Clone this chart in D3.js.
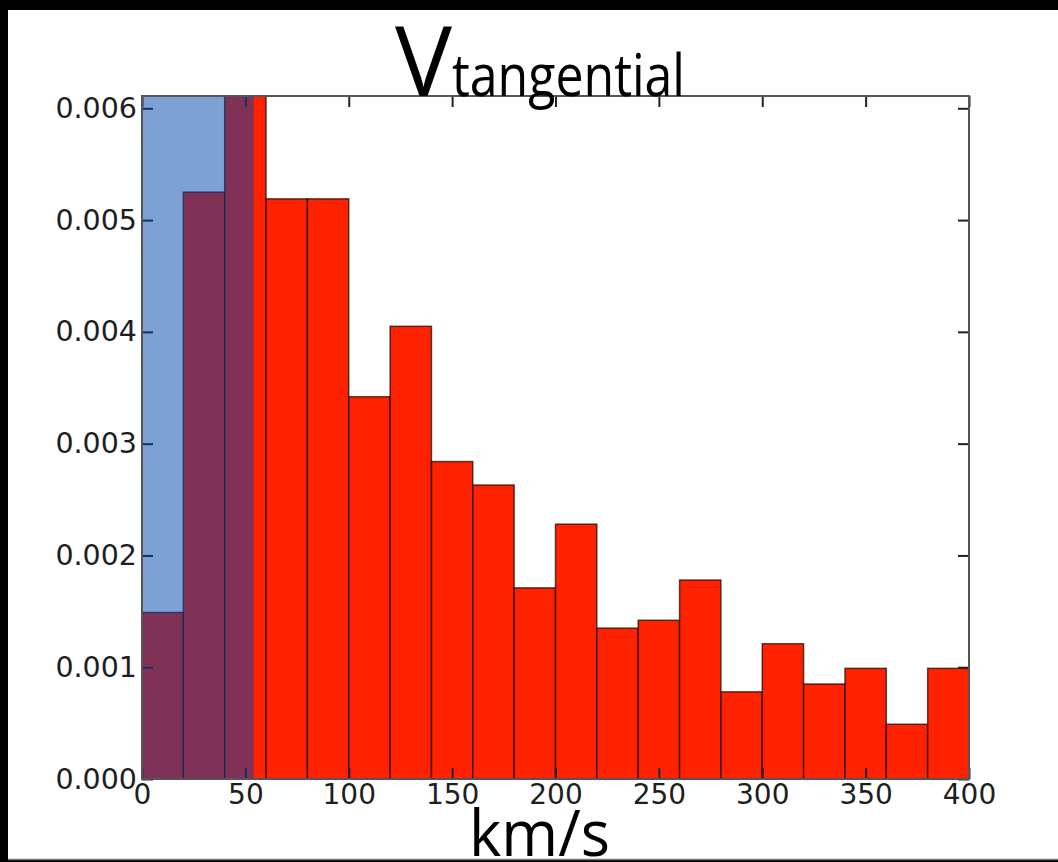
<!DOCTYPE html>
<html>
<head>
<meta charset="utf-8">
<script src="https://cdn.jsdelivr.net/npm/d3@7"></script>
<style>
  html, body { margin: 0; padding: 0; background: #000; }
  svg { display: block; }
</style>
</head>
<body>
<svg id="chart" width="1058" height="862"></svg>
<script>
// Tangential velocity histogram (probability density per km/s)
const redBinEdges = [0, 20, 40, 60, 80, 100, 120, 140, 160, 180, 200, 220, 240, 260, 280, 300, 320, 340, 360, 380, 400];
const redDensity = [0.00149, 0.00525, 0.0066, 0.00519, 0.00519, 0.00342, 0.00405, 0.00284, 0.00263, 0.00171,
                    0.00228, 0.00135, 0.00142, 0.00178, 0.00078, 0.00121, 0.00085, 0.00099, 0.00049, 0.00099];
const blueBinEdges = [0, 54];
const blueDensity = [0.0185];
const xTicks = [0, 50, 100, 150, 200, 250, 300, 350, 400];
const yTicks = [0, 0.001, 0.002, 0.003, 0.004, 0.005, 0.006];

const svg = d3.select("#chart");

// white page area inside the dark border
svg.append("rect").attr("x", 8).attr("y", 10).attr("width", 1050).attr("height", 849).attr("fill", "#fff");
svg.append("line").attr("x1", 8).attr("x2", 1058).attr("y1", 859.5).attr("y2", 859.5)
  .attr("stroke", "#777").attr("stroke-width", 1.5);

const plot = { left: 142, right: 969, top: 96, bottom: 779 };
const x = d3.scaleLinear().domain([0, 400]).range([plot.left, plot.right]);
const y = d3.scaleLinear().domain([0, 0.00611]).range([plot.bottom, plot.top]);

const defs = svg.append("defs");
defs.append("clipPath").attr("id", "plotClip")
  .append("rect").attr("x", plot.left).attr("y", plot.top)
  .attr("width", plot.right - plot.left).attr("height", plot.bottom - plot.top);

// red histogram
const redBins = redDensity.map((v, i) => ({ x0: redBinEdges[i], x1: redBinEdges[i + 1], v }));
svg.append("g").attr("clip-path", "url(#plotClip)")
  .selectAll("rect").data(redBins).join("rect")
  .attr("x", d => x(d.x0))
  .attr("y", d => y(d.v))
  .attr("width", d => x(d.x1) - x(d.x0))
  .attr("height", d => y(0) - y(d.v))
  .attr("fill", "#ff2200")
  .attr("stroke", "#000")
  .attr("stroke-opacity", 0.65)
  .attr("stroke-width", 1.5);

// axes with inward ticks
const tickFont = "'DejaVu Sans', sans-serif";
function styleAxis(g) {
  g.select(".domain").remove();
  g.selectAll(".tick line").attr("stroke", "#222").attr("stroke-width", 2);
  g.selectAll(".tick text").attr("fill", "#1e1e1e").style("font-family", tickFont);
}

svg.append("g").attr("transform", `translate(${plot.left},0)`)
  .call(d3.axisLeft(y).tickValues(yTicks).tickFormat(d3.format(".3f")).tickSizeInner(-11).tickSizeOuter(0).tickPadding(5))
  .call(styleAxis)
  .call(g => g.selectAll(".tick text").style("font-size", "28.5px"));

svg.append("g").attr("transform", `translate(${plot.right},0)`)
  .call(d3.axisRight(y).tickValues(yTicks).tickFormat("").tickSizeInner(-11).tickSizeOuter(0))
  .call(styleAxis);

svg.append("g").attr("transform", `translate(0,${plot.bottom})`)
  .call(d3.axisBottom(x).tickValues(xTicks).tickFormat(d3.format("d")).tickSizeInner(-11).tickSizeOuter(0).tickPadding(5))
  .call(styleAxis)
  .call(g => g.selectAll(".tick text").style("font-size", "28px"));

svg.append("g").attr("transform", `translate(0,${plot.top})`)
  .call(d3.axisTop(x).tickValues(xTicks).tickFormat("").tickSizeInner(-11).tickSizeOuter(0))
  .call(styleAxis);

// translucent blue histogram laid over the red one
const blueBins = blueDensity.map((v, i) => ({ x0: blueBinEdges[i], x1: blueBinEdges[i + 1], v }));
svg.append("g").attr("clip-path", "url(#plotClip)")
  .selectAll("rect").data(blueBins).join("rect")
  .attr("x", d => x(d.x0))
  .attr("y", d => y(d.v))
  .attr("width", d => x(d.x1) - x(d.x0))
  .attr("height", d => y(0) - y(d.v))
  .attr("fill", "#0041ab")
  .attr("fill-opacity", 0.5);

// frame
svg.append("rect")
  .attr("x", plot.left).attr("y", plot.top)
  .attr("width", plot.right - plot.left).attr("height", plot.bottom - plot.top)
  .attr("fill", "none").attr("stroke", "#555").attr("stroke-width", 2);

// title V_tangential
const titleFont = "'Open Sans', 'Noto Sans', sans-serif";
svg.append("text").attr("x", 395).attr("y", 96)
  .style("font-family", titleFont).style("font-size", "97px").attr("fill", "#000")
  .attr("textLength", 57).attr("lengthAdjust", "spacingAndGlyphs")
  .text("V");
svg.append("text").attr("x", 452).attr("y", 96)
  .style("font-family", titleFont).style("font-size", "58px").attr("fill", "#000")
  .attr("textLength", 233).attr("lengthAdjust", "spacingAndGlyphs")
  .text("tangential");

// x axis label
svg.append("text").attr("x", 469).attr("y", 856)
  .style("font-family", titleFont).style("font-size", "64px").attr("fill", "#000")
  .attr("textLength", 141).attr("lengthAdjust", "spacingAndGlyphs")
  .text("km/s");
</script>
</body>
</html>
